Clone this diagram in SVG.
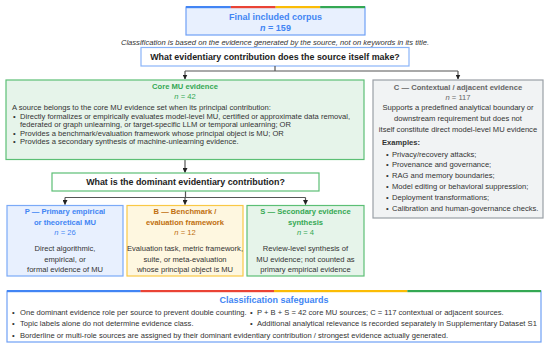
<svg xmlns="http://www.w3.org/2000/svg" width="550" height="346" viewBox="0 0 550 346">
<defs>
<style>
text{font-family:"Liberation Sans",Arial,Helvetica,sans-serif;font-size:7.6px;fill:#333}
.m{text-anchor:middle}
.b{font-weight:bold}
.h{font-weight:bold;font-size:7.6px}
.q{font-weight:bold;font-size:8.9px;fill:#222;text-anchor:middle}
.big{font-weight:bold;font-size:9px;text-anchor:middle}
.blue{fill:#4285f4}
.green{fill:#34a853}
.gold{fill:#c0700f}
.gray{fill:#666}
.i{font-style:italic}
.ln{fill:none;stroke:#555;stroke-width:1.2}
</style>
<marker id="ar" markerWidth="5" markerHeight="5" refX="4.5" refY="2.5" orient="auto" markerUnits="userSpaceOnUse">
<path d="M0,0 L5,2.5 L0,5 z" fill="#222"/>
</marker>
</defs>
<rect width="550" height="346" fill="#ffffff"/>

<g id="corpus">
<rect x="186" y="7" width="179" height="28" fill="#e8f0fe" stroke="#6fa0f5" stroke-width="1.2"/>
<rect x="186" y="6" width="44.75" height="2.2" fill="#4285f4"/>
<rect x="230.75" y="6" width="44.75" height="2.2" fill="#ea4335"/>
<rect x="275.5" y="6" width="44.75" height="2.2" fill="#fbbc05"/>
<rect x="320.25" y="6" width="44.75" height="2.2" fill="#34a853"/>
<text x="275.5" y="20" class="big blue">Final included corpus</text>
<text x="275.5" y="30.5" class="big blue"><tspan class="i">n</tspan> = 159</text>
</g>

<text x="275" y="44.5" class="m i">Classification is based on the evidence generated by the source, not on keywords in its title.</text>

<g id="q1">
<rect x="141" y="47.5" width="268" height="18.5" fill="#ffffff" stroke="#8ab4f8" stroke-width="1.2"/>
<text x="275" y="60" class="q">What evidentiary contribution does the source itself make?</text>
</g>

<g id="connectors">
<path class="ln" d="M275,66 V71"/>
<path class="ln" d="M185,71 H458"/>
<path class="ln" d="M185,71 V79" marker-end="url(#ar)"/>
<path class="ln" d="M458,71 V79" marker-end="url(#ar)"/>
<path class="ln" d="M185,159.5 V172.5" marker-end="url(#ar)"/>
<path class="ln" d="M185.5,191 V197.5"/>
<path class="ln" d="M65,197.5 H305.5"/>
<path class="ln" d="M65,197.5 V204.5" marker-end="url(#ar)"/>
<path class="ln" d="M185,197.5 V204.5" marker-end="url(#ar)"/>
<path class="ln" d="M305.5,197.5 V204.5" marker-end="url(#ar)"/>
</g>

<g id="core">
<rect x="6" y="80" width="358" height="79.5" fill="#e6f4ea" stroke="#5cbf75" stroke-width="1.2"/>
<text x="185" y="89" class="m h green">Core MU evidence</text>
<text x="185" y="98.5" class="m green"><tspan class="i">n</tspan> = 42</text>
<text x="12" y="109.5">A source belongs to the core MU evidence set when its principal contribution:</text>
<text x="13" y="118.5">•</text>
<text x="20" y="118.5">Directly formalizes or empirically evaluates model-level MU, certified or approximate data removal,</text>
<text x="20" y="127">federated or graph unlearning, or target-specific LLM or temporal unlearning; OR</text>
<text x="13" y="135.5">•</text>
<text x="20" y="135.5">Provides a benchmark/evaluation framework whose principal object is MU; OR</text>
<text x="13" y="144">•</text>
<text x="20" y="144">Provides a secondary synthesis of machine-unlearning evidence.</text>
</g>

<g id="contextual">
<rect x="373" y="80" width="170" height="138" fill="#f1f3f4" stroke="#9aa0a6" stroke-width="1.2"/>
<text x="458" y="90" class="m h gray">C — Contextual / adjacent evidence</text>
<text x="458" y="99.5" class="m gray"><tspan class="i">n</tspan> = 117</text>
<text x="458" y="110" class="m">Supports a predefined analytical boundary or</text>
<text x="458" y="121" class="m">downstream requirement but does not</text>
<text x="458" y="132" class="m">itself constitute direct model-level MU evidence</text>
<text x="382" y="145" class="b">Examples:</text>
<text x="386" y="156.5">•</text><text x="392" y="156.5">Privacy/recovery attacks;</text>
<text x="386" y="167">•</text><text x="392" y="167">Provenance and governance;</text>
<text x="386" y="178">•</text><text x="392" y="178">RAG and memory boundaries;</text>
<text x="386" y="189">•</text><text x="392" y="189">Model editing or behavioral suppression;</text>
<text x="386" y="200">•</text><text x="392" y="200">Deployment transformations;</text>
<text x="386" y="211">•</text><text x="392" y="211">Calibration and human-governance checks.</text>
</g>

<g id="q2">
<rect x="52" y="173" width="267" height="18" fill="#ffffff" stroke="#5cbf75" stroke-width="1.2"/>
<text x="185.5" y="185" class="q">What is the dominant evidentiary contribution?</text>
</g>

<g id="primary">
<rect x="7" y="205.5" width="116" height="70.5" fill="#e8f0fe" stroke="#7baaf7" stroke-width="1.2"/>
<text x="65" y="213.8" class="m h blue">P — Primary empirical</text>
<text x="65" y="224.6" class="m h blue">or theoretical MU</text>
<text x="65" y="235.3" class="m blue"><tspan class="i">n</tspan> = 26</text>
<text x="65" y="251" class="m">Direct algorithmic,</text>
<text x="65" y="261.6" class="m">empirical, or</text>
<text x="65" y="272" class="m">formal evidence of MU</text>
</g>

<g id="benchmark">
<rect x="127" y="205.5" width="116" height="70.5" fill="#fef7e0" stroke="#f9c846" stroke-width="1.2"/>
<text x="185" y="213.8" class="m h gold">B — Benchmark /</text>
<text x="185" y="224.6" class="m h gold">evaluation framework</text>
<text x="185" y="235.3" class="m gold"><tspan class="i">n</tspan> = 12</text>
<text x="185" y="251" class="m">Evaluation task, metric framework,</text>
<text x="185" y="261.6" class="m">suite, or meta-evaluation</text>
<text x="185" y="272" class="m">whose principal object is MU</text>
</g>

<g id="secondary">
<rect x="247" y="205.5" width="117" height="70.5" fill="#e6f4ea" stroke="#5cbf75" stroke-width="1.2"/>
<text x="305.5" y="213.8" class="m h green">S — Secondary evidence</text>
<text x="305.5" y="224.6" class="m h green">synthesis</text>
<text x="305.5" y="235.3" class="m green"><tspan class="i">n</tspan> = 4</text>
<text x="305.5" y="251" class="m">Review-level synthesis of</text>
<text x="305.5" y="261.6" class="m">MU evidence; not counted as</text>
<text x="305.5" y="272" class="m">primary empirical evidence</text>
</g>

<g id="safeguards">
<rect x="7" y="291" width="534" height="51" fill="#ffffff" stroke="#6fa0f5" stroke-width="1.2"/>
<rect x="7" y="290" width="133.5" height="2.2" fill="#4285f4"/>
<rect x="140.5" y="290" width="133.5" height="2.2" fill="#ea4335"/>
<rect x="274" y="290" width="133.5" height="2.2" fill="#fbbc05"/>
<rect x="407.5" y="290" width="133.5" height="2.2" fill="#34a853"/>
<text x="274" y="303" class="big blue">Classification safeguards</text>
<text x="12" y="315">•</text><text x="20" y="315">One dominant evidence role per source to prevent double counting.</text>
<text x="12" y="326">•</text><text x="20" y="326">Topic labels alone do not determine evidence class.</text>
<text x="12" y="337.5">•</text><text x="20" y="337.5">Borderline or multi-role sources are assigned by their dominant evidentiary contribution / strongest evidence actually generated.</text>
<text x="250" y="315">•</text><text x="257" y="315">P + B + S = 42 core MU sources; C = 117 contextual or adjacent sources.</text>
<text x="250" y="326">•</text><text x="257" y="326">Additional analytical relevance is recorded separately in Supplementary Dataset S1</text>
</g>
</svg>
